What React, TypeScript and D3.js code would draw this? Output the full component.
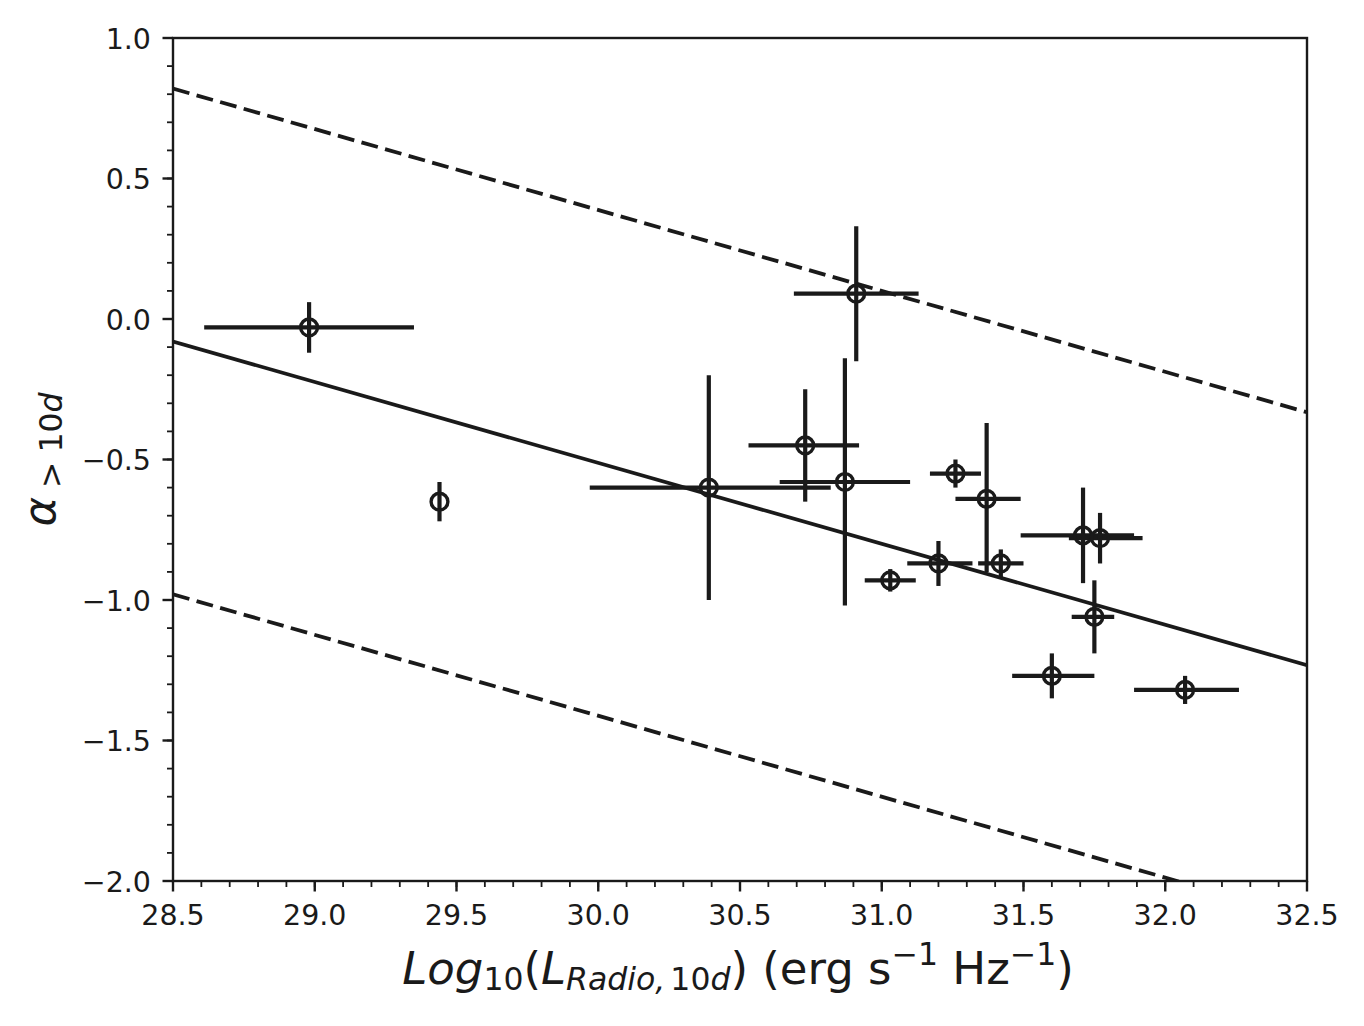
import React from 'react';
import * as d3 from 'd3';

// Luminosity at 10 d (log10) and late-time spectral index, with bounds of each error bar
const logL = [28.98, 29.44, 30.39, 30.91, 30.73, 30.87, 31.03, 31.2, 31.26, 31.37, 31.42, 31.71, 31.77, 31.75, 31.6, 32.07];
const logLLow = [28.61, 29.44, 29.97, 30.69, 30.53, 30.64, 30.94, 31.09, 31.17, 31.26, 31.34, 31.49, 31.66, 31.67, 31.46, 31.89];
const logLHigh = [29.35, 29.44, 30.82, 31.13, 30.92, 31.1, 31.12, 31.32, 31.35, 31.49, 31.5, 31.89, 31.92, 31.82, 31.75, 32.26];
const alpha = [-0.03, -0.65, -0.6, 0.09, -0.45, -0.58, -0.93, -0.87, -0.55, -0.64, -0.87, -0.77, -0.78, -1.06, -1.27, -1.32];
const alphaLow = [-0.12, -0.72, -1.0, -0.15, -0.65, -1.02, -0.97, -0.95, -0.6, -0.9, -0.92, -0.94, -0.87, -1.19, -1.35, -1.37];
const alphaHigh = [0.06, -0.58, -0.2, 0.33, -0.25, -0.14, -0.89, -0.79, -0.5, -0.37, -0.82, -0.6, -0.69, -0.93, -1.19, -1.27];

// best fit alpha = fitIntercept + fitSlope * logL, with a +/- band
const fitIntercept = 8.128;
const fitSlope = -0.288;
const fitBand = 0.9;

const xTicks = [28.5, 29.0, 29.5, 30.0, 30.5, 31.0, 31.5, 32.0, 32.5];
const yTicks = [1.0, 0.5, 0.0, -0.5, -1.0, -1.5, -2.0];

const INK = '#1a1a1a';
const FONT = '"DejaVu Sans", sans-serif';

export default function App() {
  const width = 1364;
  const height = 1026;
  const margin = { top: 38, right: 57, bottom: 145, left: 173 };
  const plotW = width - margin.left - margin.right;
  const plotH = height - margin.top - margin.bottom;

  const x = d3.scaleLinear().domain([28.5, 32.5]).range([0, plotW]);
  const y = d3.scaleLinear().domain([-2.0, 1.0]).range([plotH, 0]);

  const xMinor = d3.range(28.5, 32.5001, 0.1).map((v) => +v.toFixed(1));
  const yMinor = d3.range(-2.0, 1.0001, 0.1).map((v) => +v.toFixed(1));

  const shifted = (off: number) => d3.line<number>()
    .x((d) => x(d))
    .y((d) => y(fitIntercept + fitSlope * d + off));
  const ends = [28.5, 32.5];

  const fmt = (v: number) => v.toFixed(1).replace('-', '\u2212');

  const tickFont = 28.5;
  const labelFont = 45;
  const subFont = labelFont * 0.7;

  return (
    <svg
      width={width}
      height={height}
      style={{ position: 'absolute', left: 0, top: 0, background: '#fff' }}
      fontFamily={FONT}
    >
      <defs>
        <clipPath id="plot-clip">
          <rect x={0} y={0} width={plotW} height={plotH} />
        </clipPath>
      </defs>
      <g transform={`translate(${margin.left},${margin.top})`}>
        {/* fit and its band */}
        <g clipPath="url(#plot-clip)" fill="none" stroke={INK} strokeWidth={3.8}>
          <path d={shifted(0)(ends) || ''} />
          <path d={shifted(fitBand)(ends) || ''} strokeDasharray="17 7.5" />
          <path d={shifted(-fitBand)(ends) || ''} strokeDasharray="17 7.5" />
        </g>

        {/* error bars */}
        <g stroke={INK} strokeWidth={4.2}>
          {logL.map((v, i) => (
            <g key={i}>
              {logLHigh[i] > logLLow[i] && (
                <line x1={x(logLLow[i])} x2={x(logLHigh[i])} y1={y(alpha[i])} y2={y(alpha[i])} />
              )}
              <line x1={x(v)} x2={x(v)} y1={y(alphaLow[i])} y2={y(alphaHigh[i])} />
            </g>
          ))}
        </g>

        {/* open markers */}
        <g fill="none" stroke={INK} strokeWidth={3.4}>
          {logL.map((v, i) => (
            <circle key={i} cx={x(v)} cy={y(alpha[i])} r={8.4} />
          ))}
        </g>

        {/* frame */}
        <rect x={0} y={0} width={plotW} height={plotH} fill="none" stroke={INK} strokeWidth={2.4} />

        {/* ticks */}
        <g stroke={INK}>
          {xMinor.map((t) => (
            <line key={`xm${t}`} x1={x(t)} x2={x(t)} y1={plotH} y2={plotH + 6} strokeWidth={1.8} />
          ))}
          {xTicks.map((t) => (
            <line key={`xM${t}`} x1={x(t)} x2={x(t)} y1={plotH} y2={plotH + 10.5} strokeWidth={2.4} />
          ))}
          {yMinor.map((t) => (
            <line key={`ym${t}`} x1={-6} x2={0} y1={y(t)} y2={y(t)} strokeWidth={1.8} />
          ))}
          {yTicks.map((t) => (
            <line key={`yM${t}`} x1={-10.5} x2={0} y1={y(t)} y2={y(t)} strokeWidth={2.4} />
          ))}
        </g>
        <g fill={INK} fontSize={tickFont}>
          {xTicks.map((t) => (
            <text key={`xl${t}`} x={x(t)} y={plotH + 44} textAnchor="middle">{fmt(t)}</text>
          ))}
          {yTicks.map((t) => (
            <text key={`yl${t}`} x={-22} y={y(t) + 10.5} textAnchor="end">{fmt(t)}</text>
          ))}
        </g>
      </g>

      {/* x axis label */}
      <text x={margin.left + plotW / 2 - 2} y={984} textAnchor="middle" fontSize={labelFont} fill={INK}>
        <tspan fontStyle="italic">Log</tspan>
        <tspan fontSize={subFont} dy={6}>10</tspan>
        <tspan dy={-6}>(</tspan>
        <tspan fontStyle="italic">L</tspan>
        <tspan fontSize={subFont} fontStyle="italic" dy={6}>Radio,</tspan>
        <tspan fontSize={subFont} dx={5}>10</tspan>
        <tspan fontSize={subFont} fontStyle="italic">d</tspan>
        <tspan dy={-6}>) (erg s</tspan>
        <tspan fontSize={subFont} dy={-19}>{'\u22121'}</tspan>
        <tspan dy={19}> Hz</tspan>
        <tspan fontSize={subFont} dy={-19}>{'\u22121'}</tspan>
        <tspan dy={19}>)</tspan>
      </text>

      {/* y axis label */}
      <text
        transform={`translate(55,${margin.top + plotH / 2}) rotate(-90)`}
        textAnchor="middle"
        fontSize={labelFont}
        fill={INK}
      >
        <tspan fontStyle="italic">{'\u03b1'}</tspan>
        <tspan fontSize={subFont} dy={7} dx={9}>{'>'}</tspan>
        <tspan fontSize={subFont} dx={9}>10</tspan>
        <tspan fontSize={subFont} fontStyle="italic">d</tspan>
      </text>
    </svg>
  );
}
